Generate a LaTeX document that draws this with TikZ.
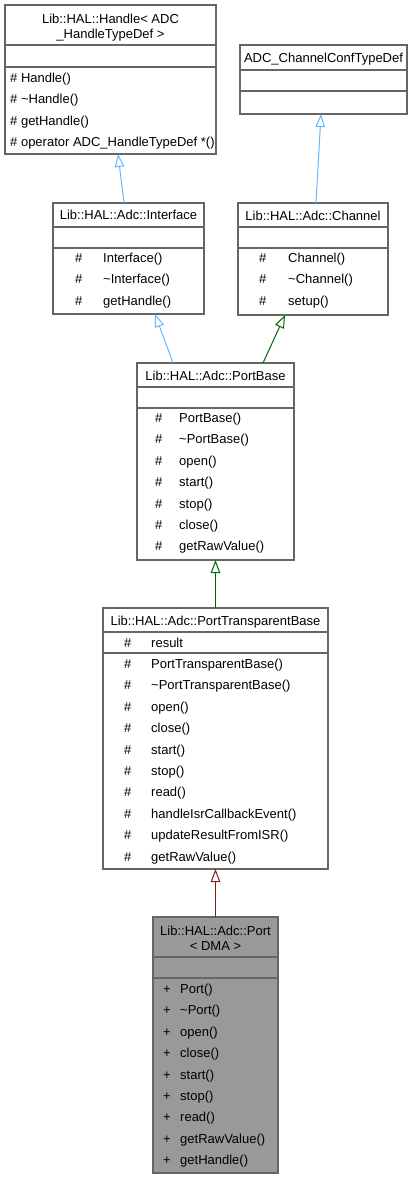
\documentclass[tikz,border=0pt]{standalone}
\usepackage{fontspec}
\setmainfont{Liberation Sans}
\usetikzlibrary{arrows.meta}
\definecolor{boxline}{HTML}{666666}
\definecolor{pubedge}{HTML}{63B8FF}
\definecolor{protedge}{HTML}{006400}
\definecolor{privedge}{HTML}{8B1A1A}
\definecolor{curfill}{HTML}{999999}

% class box: name, x1, y1, x2, y2, first separator, second separator, fill
\newcommand\umlclass[8]{%
  \node[box, fill=#8, anchor=north west,
        minimum width={#4-#2}, minimum height={#5-#3}] (#1) at (#2,#3) {};
  \draw[sepline] (#2,#6) -- (#4,#6);
  \draw[sepline] (#2,#7) -- (#4,#7);
}

\begin{document}
\begin{tikzpicture}[x=1pt, y=-1pt,
  box/.style={draw=boxline, line width=1.1pt, inner sep=0pt, outer sep=0pt},
  sepline/.style={draw=boxline, line width=1.1pt},
  lbl/.style={inner sep=0pt, anchor=base west, font=\fontsize{13}{15}\selectfont},
  ttl/.style={inner sep=0pt, anchor=base, font=\fontsize{13}{15}\selectfont},
  inh/.style={-{Triangle[open, length=13pt, width=9.5pt]}, line width=1pt},
  pubinh/.style={inh, draw=pubedge},
  protinh/.style={inh, draw=protedge},
  privinh/.style={inh, draw=privedge}]

\useasboundingbox (0,0) rectangle (413,1179);

% ---- Lib::HAL::Handle< ADC_HandleTypeDef >
\umlclass{handle}{5}{5}{216}{154}{45}{67}{white}
\node[ttl] (handle-t1) at (110.5,23) {Lib::HAL::Handle< ADC};
\node[ttl] (handle-t2) at (110.5,38) {\_HandleTypeDef >};
\foreach \t [count=\i] in {\# Handle(), \# \textasciitilde Handle(), \# getHandle(), \# operator ADC\_HandleTypeDef *()}
  \node[lbl] (handle-m\i) at (10,{82.5+(\i-1)*21.4}) {\t};

% ---- ADC_ChannelConfTypeDef
\umlclass{adcconf}{240}{45}{407}{114}{70}{91}{white}
\node[ttl] (adcconf-t) at (323.5,62.5) {ADC\_ChannelConfTypeDef};

% ---- Lib::HAL::Adc::Interface
\umlclass{iface}{53}{203}{204}{314}{227}{248}{white}
\node[ttl] (iface-t) at (128.5,219.5) {Lib::HAL::Adc::Interface};
\foreach \t [count=\i] in {Interface(), \textasciitilde Interface(), getHandle()} {
  \node[lbl] (iface-v\i) at (75,{262.5+(\i-1)*21.4}) {\#};
  \node[lbl] (iface-m\i) at (103,{262.5+(\i-1)*21.4}) {\t};
}

% ---- Lib::HAL::Adc::Channel
\umlclass{chan}{238}{203}{388}{315}{227}{248}{white}
\node[ttl] (chan-t) at (313,220.5) {Lib::HAL::Adc::Channel};
\foreach \t [count=\i] in {Channel(), \textasciitilde Channel(), setup()} {
  \node[lbl] (chan-v\i) at (259,{262.5+(\i-1)*21.4}) {\#};
  \node[lbl] (chan-m\i) at (288,{262.5+(\i-1)*21.4}) {\t};
}

% ---- Lib::HAL::Adc::PortBase
\umlclass{pbase}{137}{363}{294}{560}{387}{408}{white}
\node[ttl] (pbase-t) at (215.5,380.5) {Lib::HAL::Adc::PortBase};
\foreach \t [count=\i] in {PortBase(), \textasciitilde PortBase(), open(), start(), stop(), close(), getRawValue()} {
  \node[lbl] (pbase-v\i) at (155,{422.5+(\i-1)*21.4}) {\#};
  \node[lbl] (pbase-m\i) at (179,{422.5+(\i-1)*21.4}) {\t};
}

% ---- Lib::HAL::Adc::PortTransparentBase
\umlclass{ptb}{103}{608}{328}{869}{632}{653}{white}
\node[ttl] (ptb-t) at (215.5,625) {Lib::HAL::Adc::PortTransparentBase};
\node[lbl] (ptb-av) at (124,647.5) {\#};
\node[lbl] (ptb-a) at (151,647.5) {result};
\foreach \t [count=\i] in {PortTransparentBase(), \textasciitilde PortTransparentBase(), open(), close(), start(), stop(), read(), handleIsrCallbackEvent(), updateResultFromISR(), getRawValue()} {
  \node[lbl] (ptb-v\i) at (124,{668.5+(\i-1)*21.4}) {\#};
  \node[lbl] (ptb-m\i) at (151,{668.5+(\i-1)*21.4}) {\t};
}

% ---- Lib::HAL::Adc::Port< DMA >
\umlclass{port}{153}{917}{278}{1173}{957}{978}{curfill}
\node[ttl] (port-t1) at (215.5,935.5) {Lib::HAL::Adc::Port};
\node[ttl] (port-t2) at (215.5,950.5) {< DMA >};
\foreach \t [count=\i] in {Port(), \textasciitilde Port(), open(), close(), start(), stop(), read(), getRawValue(), getHandle()} {
  \node[lbl] (port-v\i) at (163,{993.5+(\i-1)*21.4}) {+};
  \node[lbl] (port-m\i) at (180,{993.5+(\i-1)*21.4}) {\t};
}

% ---- inheritance edges
\draw[pubinh] ([xshift=-4.5pt]iface.north) -- ([xshift=7.5pt]handle.south);
\draw[pubinh] ([xshift=3pt]chan.north) -- ([xshift=-2.5pt]adcconf.south);
\draw[pubinh] ([xshift=-42.5pt]pbase.north) -- ([xshift=26.5pt]iface.south);
\draw[protinh] ([xshift=47.5pt]pbase.north) -- ([xshift=-28pt]chan.south);
\draw[protinh] (ptb.north) -- (pbase.south);
\draw[privinh] (port.north) -- (ptb.south);

\end{tikzpicture}
\end{document}
